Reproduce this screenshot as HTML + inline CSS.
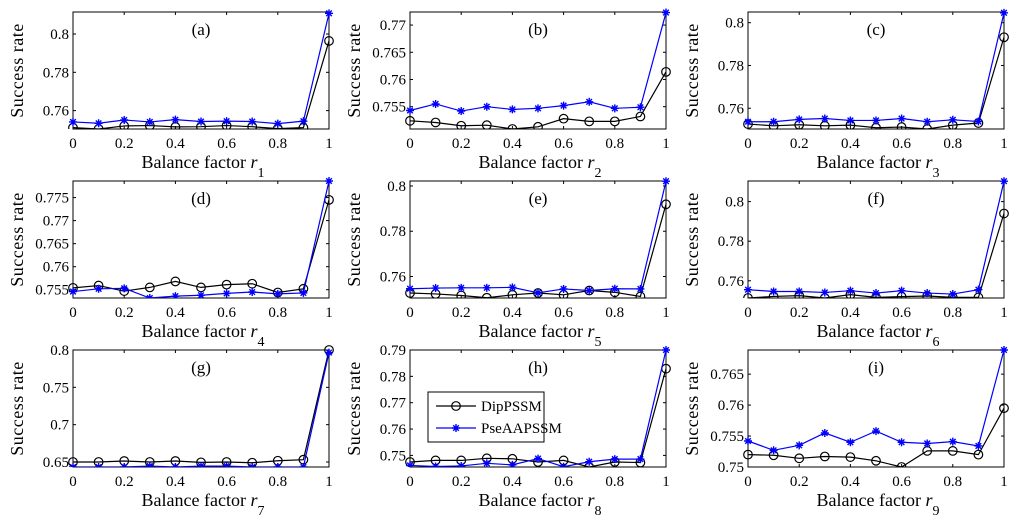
<!DOCTYPE html>
<html><head><meta charset="utf-8"><style>
html,body{margin:0;padding:0;background:#fff;width:1024px;height:524px;overflow:hidden}
svg{display:block;font-family:"Liberation Serif","DejaVu Serif",serif}
svg text{font-family:"Liberation Serif","DejaVu Serif",serif}
</style></head><body>
<svg id="fig" width="1024" height="524" viewBox="0 0 1024 524" xmlns="http://www.w3.org/2000/svg" font-family="Liberation Serif, serif"></svg>
<script>
const xVals=[0,0.1,0.2,0.3,0.4,0.5,0.6,0.7,0.8,0.9,1];
const xTicks=[0,0.2,0.4,0.6,0.8,1];
const xTickLabels=["0","0.2","0.4","0.6","0.8","1"];
const panelLabels=["(a)","(b)","(c)","(d)","(e)","(f)","(g)","(h)","(i)"];
const subscripts=["1","2","3","4","5","6","7","8","9"];
const dipA=[.7511,.7504,.7520,.7522,.7515,.7516,.7522,.7516,.7506,.7511,.7964];
const pseA=[.7541,.7534,.7551,.7541,.7553,.7543,.7545,.7543,.7532,.7545,.8108];
const dipB=[.7524,.7521,.7515,.7516,.7509,.7513,.7528,.7523,.7523,.7532,.7614];
const pseB=[.7543,.7555,.7542,.7550,.7545,.7547,.7552,.7559,.7547,.7549,.7723];
const dipC=[.7526,.7518,.7523,.7518,.7521,.7509,.7512,.7503,.7521,.7531,.7932];
const pseC=[.7537,.7537,.7548,.7552,.7543,.7543,.7552,.7537,.7546,.7538,.8046];
const dipD=[.7554,.7559,.7547,.7555,.7568,.7555,.7561,.7563,.7544,.7552,.7745];
const pseD=[.7546,.7552,.7553,.7532,.7536,.7538,.7542,.7545,.7541,.7543,.7786];
const dipE=[.7527,.7523,.7516,.7506,.7519,.7527,.7519,.7538,.7530,.7512,.7919];
const pseE=[.7546,.7549,.7550,.7550,.7552,.7528,.7545,.7538,.7546,.7545,.8021];
const dipF=[.7513,.7521,.7525,.7513,.7530,.7516,.7520,.7523,.7516,.7516,.7940];
const pseF=[.7555,.7546,.7546,.7541,.7550,.7538,.7550,.7538,.7533,.7555,.8103];
const dipG=[.6500,.6500,.6513,.6500,.6513,.6495,.6500,.6490,.6517,.6531,.8000];
const pseG=[.6433,.6433,.6433,.6445,.6433,.6445,.6445,.6433,.6433,.6433,.7965];
const dipH=[.7475,.7481,.7481,.7489,.7487,.7475,.7481,.7456,.7475,.7473,.7829];
const pseH=[.7462,.7458,.7460,.7470,.7464,.7488,.7457,.7476,.7486,.7486,.7900];
const dipI=[.7520,.7519,.7514,.7517,.7516,.7510,.7500,.7526,.7526,.7520,.7595];
const pseI=[.7542,.7527,.7535,.7555,.7540,.7558,.7540,.7538,.7541,.7534,.7689];
const yLims=[[.7504,.8115],[.7509,.7724],[.7503,.8050],[.7532,.7786],[.7505,.8022],[.7513,.8104],[.6433,.8000],[.7456,.7900],[.7500,.7689]];
const yTicks=[[.76,.78,.8],[.755,.76,.765,.77],[.76,.78,.8],[.755,.76,.765,.77,.775],[.76,.78,.8],[.76,.78,.8],[.65,.7,.75,.8],[.75,.76,.77,.78,.79],[.75,.755,.76,.765]];
const yTickLabels=[["0.76","0.78","0.8"],["0.755","0.76","0.765","0.77"],["0.76","0.78","0.8"],["0.755","0.76","0.765","0.77","0.775"],["0.76","0.78","0.8"],["0.76","0.78","0.8"],["0.65","0.7","0.75","0.8"],["0.75","0.76","0.77","0.78","0.79"],["0.75","0.755","0.76","0.765"]];
const dipAll=[dipA,dipB,dipC,dipD,dipE,dipF,dipG,dipH,dipI];
const pseAll=[pseA,pseB,pseC,pseD,pseE,pseF,pseG,pseH,pseI];

const NS="http://www.w3.org/2000/svg";
const FF='"Liberation Serif", serif';
const svg=document.getElementById('fig');
function mk(tag,attrs,parent){const e=document.createElementNS(NS,tag);for(const k in attrs)e.setAttribute(k,attrs[k]);if(tag==='text')e.setAttribute('font-family',FF);(parent||svg).appendChild(e);return e;}
const lefts=[73,410,748], tops=[12,181,350], W=256, H=117;
function starPath(cx,cy,r){return `M${cx-r},${cy}L${cx+r},${cy}M${cx},${cy-r}L${cx},${cy+r}M${cx-r*0.7},${cy-r*0.7}L${cx+r*0.7},${cy+r*0.7}M${cx-r*0.7},${cy+r*0.7}L${cx+r*0.7},${cy-r*0.7}`;}
for(let p=0;p<9;p++){
  const L=lefts[p%3],T=tops[Math.floor(p/3)];
  const g=mk('g',{});
  
  
  const [y0,y1]=yLims[p];
  const xs=v=>L+v*W;
  const ys=v=>T+H-(v-y0)/(y1-y0)*H;
  const clipId='c'+p;
  const cp=mk('clipPath',{id:clipId},g);mk('rect',{x:L-6,y:T-6,width:W+12,height:H+6},cp);
  const box=mk('rect',{x:L,y:T,width:W,height:H,fill:'none',stroke:'#000','stroke-width':1},g);
  
  
  xTicks.forEach((t,i)=>{
    const x=xs(t);
    mk('line',{x1:x,y1:T+H,x2:x,y2:T+H-3,stroke:'#000'},g);
    mk('line',{x1:x,y1:T,x2:x,y2:T+3,stroke:'#000'},g);
    const tx=mk('text',{x:x,y:T+H+19,'font-size':15,'text-anchor':'middle'},g);
    tx.textContent=xTickLabels[i];
    
    
  });
  yTicks[p].forEach((t,i)=>{
    const y=ys(t);
    mk('line',{x1:L,y1:y,x2:L+3,y2:y,stroke:'#000'},g);
    mk('line',{x1:L+W,y1:y,x2:L+W-3,y2:y,stroke:'#000'},g);
    const tx=mk('text',{x:L-4,y:y+5,'font-size':15,'text-anchor':'end'},g);
    tx.textContent=yTickLabels[p][i];
    
    
  });
  const tt=mk('text',{x:L+W/2,y:T+23,'font-size':17,'text-anchor':'middle'},g);
  tt.textContent=panelLabels[p];
  
  
  const xl=mk('text',{x:L+W/2+2,y:T+H+39,'font-size':18,'text-anchor':'middle'},g);
  
  
  xl.appendChild(document.createTextNode('Balance factor '));
  const ri=mk('tspan',{'font-style':'italic'},xl);ri.textContent='r';
  const sb=mk('tspan',{'font-size':14,dy:9},xl);sb.textContent=subscripts[p];
  const yl=mk('text',{x:0,y:0,'font-size':18,'text-anchor':'middle','letter-spacing':'0.5',transform:`translate(${L-50},${T+H/2}) rotate(-90)`},g);
  yl.textContent='Success rate';
  
  
  const dg=mk('g',{'clip-path':`url(#${clipId})`},g);
  const dip=dipAll[p],pse=pseAll[p];
  const dl=mk('polyline',{points:xVals.map((x,i)=>xs(x)+','+ys(dip[i])).join(' '),fill:'none',stroke:'#000','stroke-width':1.2},dg);
  
  
  xVals.forEach((x,i)=>{
    const c=mk('circle',{cx:xs(x),cy:ys(dip[i]),r:4.3,fill:'none',stroke:'#000','stroke-width':1.2},dg);
    
    
  });
  const pl=mk('polyline',{points:xVals.map((x,i)=>xs(x)+','+ys(pse[i])).join(' '),fill:'none',stroke:'#0000ff','stroke-width':1.2},dg);
  
  
  xVals.forEach((x,i)=>{
    const s=mk('path',{d:starPath(xs(x),ys(pse[i]),4),stroke:'#0000ff','stroke-width':1.4,fill:'none'},dg);
    
    
  });
}
const lg=mk('g',{});


mk('rect',{x:428,y:392,width:116,height:50,fill:'#fff',stroke:'#000'},lg);
mk('line',{x1:436,y1:406,x2:476,y2:406,stroke:'#000','stroke-width':1.2},lg);
mk('circle',{cx:456,cy:406,r:4.3,fill:'none',stroke:'#000','stroke-width':1.2},lg);
const t1=mk('text',{x:481,y:411,'font-size':15},lg);t1.textContent='DipPSSM';


mk('line',{x1:436,y1:428,x2:476,y2:428,stroke:'#0000ff','stroke-width':1.2},lg);
mk('path',{d:starPath(456,428,4),stroke:'#0000ff','stroke-width':1.4},lg);
const t2=mk('text',{x:481,y:433,'font-size':15},lg);t2.textContent='PseAAPSSM';


</script>
</body></html>
